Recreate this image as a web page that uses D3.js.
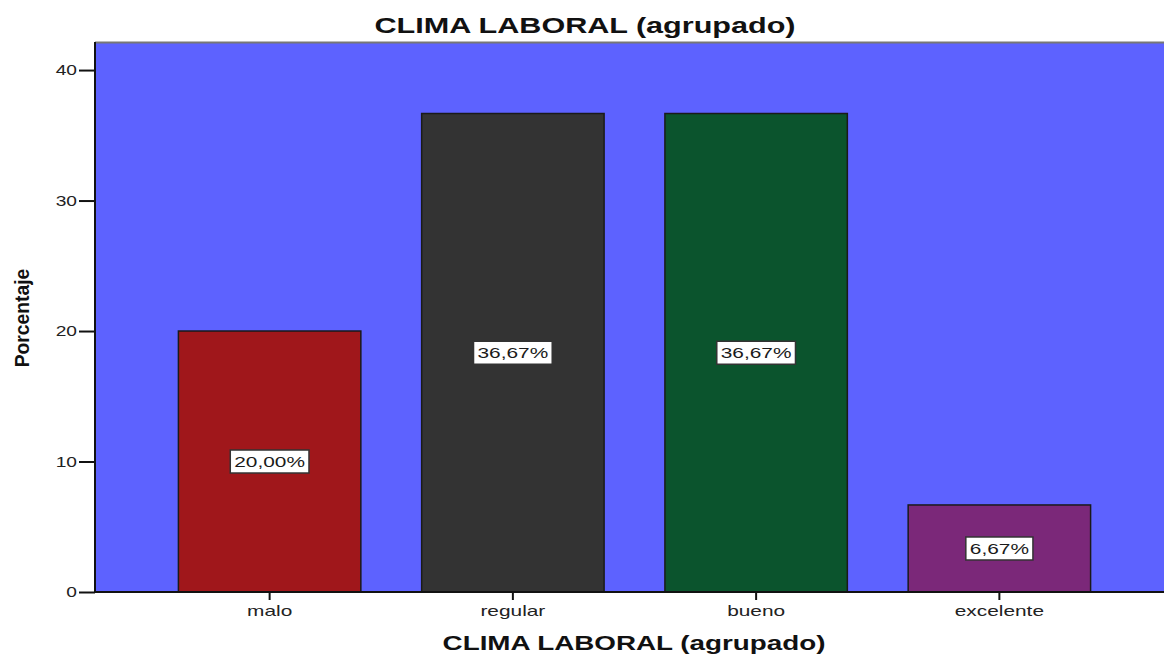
<!DOCTYPE html>
<html>
<head>
<meta charset="utf-8">
<script src="https://cdn.jsdelivr.net/npm/d3@7"></script>
<style>
  html, body { margin: 0; padding: 0; background: #fff; }
  svg { display: block; }
  text { font-family: "Liberation Sans", Arial, sans-serif; }
</style>
</head>
<body>
<script>
// Distribution of "CLIMA LABORAL (agrupado)" in percent
const categories = ["malo", "regular", "bueno", "excelente"];
const percentages = [20.00, 36.67, 36.67, 6.67];
const valueLabels = ["20,00%", "36,67%", "36,67%", "6,67%"];
const yTicks = [0, 10, 20, 30, 40];
const barColors = ["#a0171b", "#333333", "#0b542d", "#7b2879"];

const W = 1164, H = 654;
const plot = { left: 95, top: 42, right: 1164, bottom: 592 };
const STRETCH = 1.39;   // wide text rendering

const svg = d3.select("body").append("svg")
  .attr("width", W).attr("height", H);

const y = d3.scaleLinear()
  .domain([0, 42.15])
  .range([plot.bottom, plot.top]);

const x = d3.scaleBand()
  .domain(categories)
  .range([148, 1121])
  .paddingInner(0.25)
  .paddingOuter(0.125);

// plot background
svg.append("rect")
  .attr("x", plot.left).attr("y", plot.top)
  .attr("width", plot.right - plot.left).attr("height", plot.bottom - plot.top)
  .attr("fill", "#5d62ff");
svg.append("line")
  .attr("x1", plot.left).attr("x2", plot.right)
  .attr("y1", plot.top + 0.5).attr("y2", plot.top + 0.5)
  .attr("stroke", "#777").attr("stroke-width", 2);

// bars
svg.append("g").selectAll("rect")
  .data(percentages)
  .join("rect")
  .attr("x", (d, i) => x(categories[i]))
  .attr("y", d => y(d))
  .attr("width", x.bandwidth())
  .attr("height", d => y(0) - y(d))
  .attr("fill", (d, i) => barColors[i])
  .attr("stroke", "#1a1a1a")
  .attr("stroke-width", 1.5);

// value labels in boxes at bar mid-height
const lab = svg.append("g").selectAll("g")
  .data(percentages)
  .join("g")
  .attr("transform", (d, i) => `translate(${x(categories[i]) + x.bandwidth() / 2},${y(d / 2)})`);
lab.append("text")
  .attr("text-anchor", "middle")
  .attr("dy", "0.36em")
  .attr("font-size", 15)
  .attr("fill", "#1a1a1a")
  .attr("transform", `scale(${STRETCH},1)`)
  .text((d, i) => valueLabels[i])
  .each(function () {
    const b = this.getBBox();
    const w = b.width * STRETCH;
    d3.select(this.parentNode).insert("rect", "text")
      .attr("x", -w / 2 - 4).attr("y", -11.5)
      .attr("width", w + 8).attr("height", 23)
      .attr("fill", "#fff")
      .attr("stroke", "#333").attr("stroke-width", 1.5);
  });

// y axis
const yAxis = svg.append("g")
  .attr("transform", `translate(${plot.left},0)`)
  .call(d3.axisLeft(y).tickValues(yTicks).tickSize(16).tickPadding(2));
yAxis.select(".domain").attr("stroke", "#111").attr("stroke-width", 2)
  .attr("d", `M0,${plot.top}V${plot.bottom}`);
yAxis.selectAll(".tick line").attr("stroke", "#111").attr("stroke-width", 2);
yAxis.selectAll(".tick text").attr("font-size", 15).attr("fill", "#222")
  .attr("font-family", "Liberation Sans, Arial, sans-serif")
  .attr("x", -18 / 1.28)
  .attr("transform", "scale(1.28,1)");

// x axis
const xAxis = svg.append("g")
  .attr("transform", `translate(0,${plot.bottom})`)
  .call(d3.axisBottom(x).tickSize(8).tickPadding(5));
xAxis.select(".domain").attr("stroke", "#111").attr("stroke-width", 2)
  .attr("d", `M${plot.left},0H${plot.right}`);
xAxis.selectAll(".tick line").attr("stroke", "#111").attr("stroke-width", 2);
xAxis.selectAll(".tick text").attr("font-size", 15).attr("fill", "#222")
  .attr("font-family", "Liberation Sans, Arial, sans-serif")
  .attr("transform", `scale(${STRETCH},1)`);

// titles
svg.append("text")
  .attr("transform", `translate(585,33) scale(${STRETCH},1)`)
  .attr("text-anchor", "middle")
  .attr("font-size", 22).attr("font-weight", "bold").attr("fill", "#111")
  .text("CLIMA LABORAL (agrupado)");

svg.append("text")
  .attr("transform", `translate(634,650) scale(${STRETCH},1)`)
  .attr("text-anchor", "middle")
  .attr("font-size", 20).attr("font-weight", "bold").attr("fill", "#111")
  .text("CLIMA LABORAL (agrupado)");

svg.append("text")
  .attr("transform", "translate(29,318) rotate(-90) scale(0.92,1)")
  .attr("text-anchor", "middle")
  .attr("font-size", 21).attr("font-weight", "bold").attr("fill", "#111")
  .text("Porcentaje");
</script>
</body>
</html>
